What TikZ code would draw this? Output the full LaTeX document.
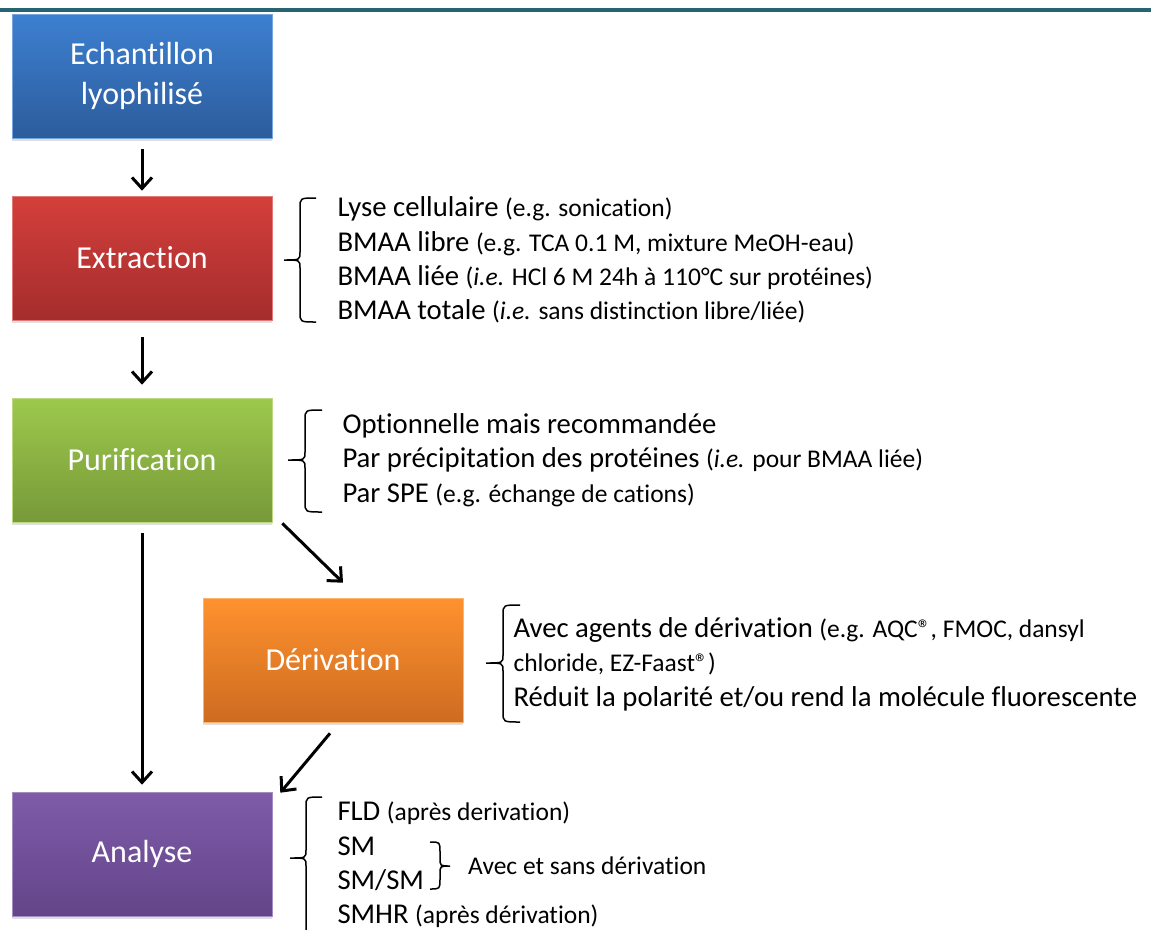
\documentclass[tikz,border=0pt]{standalone}
\usepackage{fontspec}
\setmainfont{Carlito}[Ligatures=CommonOff]
\usetikzlibrary{positioning,calc,shadows,arrows.meta}

\definecolor{rulecol}{HTML}{256470}
\definecolor{blueT}{HTML}{3D80D1}
\definecolor{blueB}{HTML}{2C5C9C}
\definecolor{redT}{HTML}{D43F3B}
\definecolor{redB}{HTML}{A42D2D}
\definecolor{greenT}{HTML}{9DC94C}
\definecolor{greenB}{HTML}{779939}
\definecolor{orangeT}{HTML}{FF922F}
\definecolor{orangeB}{HTML}{CD6B20}
\definecolor{purpleT}{HTML}{7F5BA9}
\definecolor{purpleB}{HTML}{634589}

\newcommand{\aside}[1]{{\fontsize{25.5}{34.4}\selectfont #1}}
% square-cornered curly bracket: end x, tip x, top y, tip y, bottom y
\newcommand{\curlybrack}[5]{%
  \draw[curly] (#1,#3) .. controls ($(#1,#3)!0.5!(#2,#3)$) .. ($(#1,#3)!0.5!(#2,#3)+(0,10)$)
    -- ($(#1,#4)!0.5!(#2,#4)+(0,-8)$) .. controls ($(#1,#4)!0.5!(#2,#4)$) .. (#2,#4)
    .. controls ($(#1,#4)!0.5!(#2,#4)$) .. ($(#1,#4)!0.5!(#2,#4)+(0,8)$)
    -- ($(#1,#5)!0.5!(#2,#5)+(0,-10)$) .. controls ($(#1,#5)!0.5!(#2,#5)$) .. (#1,#5);}

\begin{document}
\begin{tikzpicture}[x=1pt,y=-1pt,
    stepbox/.style 2 args={rectangle,minimum width=260pt,minimum height=124pt,
      top color=#1,bottom color=#2,draw=#1!70!white,line width=0.6pt,
      text=white,align=center,font=\fontsize{32}{40}\selectfont,
      drop shadow={shadow xshift=0pt,shadow yshift=-3pt,opacity=0.25}},
    items/.style={align=left,inner sep=0pt,font=\fontsize{28.7}{34.4}\selectfont},
    flow/.style={line width=3pt,-{Straight Barb[length=11pt,width=20pt]}},
    curly/.style={line width=1.5pt}]
  \useasboundingbox (0,0) rectangle (1151,929);
  \clip (0,0) rectangle (1151,929);

  % rule along the top
  \draw[rulecol,line width=4pt] (0,10) -- (1151,10);

  % steps
  \node[stepbox={blueT}{blueB}] (ech) at (142,76) {Echantillon\\lyophilisé};
  \node[stepbox={redT}{redB}] (ext) at (142,258) {Extraction};
  \node[stepbox={greenT}{greenB}] (pur) at (142,460) {Purification};
  \node[stepbox={orangeT}{orangeB}] (der) at (333,660) {Dérivation};
  \node[stepbox={purpleT}{purpleB}] (ana) at (142,854) {Analyse};

  % details
  \node[items,right=65pt of ext,yshift=-2pt] (extlist) {%
    Lyse cellulaire \aside{(e.g. sonication)}\\
    BMAA libre \aside{(e.g. TCA 0.1 M, mixture MeOH-eau)}\\
    BMAA liée \aside{(\textit{i.e.} HCl 6 M 24h à 110°C sur protéines)}\\
    BMAA totale \aside{(\textit{i.e.} sans distinction libre/liée)}};
  \node[items,right=70pt of pur] (purlist) {%
    Optionnelle mais recommandée\\
    Par précipitation des protéines \aside{(\textit{i.e.} pour BMAA liée)}\\
    Par SPE \aside{(e.g. échange de cations)}};
  \node[items,right=50pt of der,yshift=-4pt] (derlist) {%
    Avec agents de dérivation \aside{(e.g. AQC®, FMOC, dansyl}\\
    \aside{chloride, EZ-Faast®)}\\
    Réduit la polarité et/ou rend la molécule fluorescente};
  \node[items,right=65pt of ana,yshift=-11pt] (analist) {%
    FLD \aside{(après derivation)}\\
    SM\\
    SM/SM\\
    SMHR \aside{(après dérivation)}};
  \node[items,anchor=west] (both) at (468,866) {\aside{Avec et sans dérivation}};

  % brackets
  \curlybrack{316}{284}{198}{260}{322}
  \curlybrack{322}{288}{410}{460}{512}
  \curlybrack{520}{486}{605}{663}{722}
  \curlybrack{322}{290}{797}{858}{945}
  \curlybrack{430}{450}{842}{866}{889}

  % flow
  \draw[flow,shorten <=11pt,shorten >=5pt] (ech) -- (ext);
  \draw[flow,shorten <=17pt,shorten >=13pt] (ext) -- (pur);
  \draw[flow,shorten <=11pt,shorten >=7pt] (pur) -- (ana);
  \draw[flow] ($(pur.south east)+(10,1)$) -- ($(der.north)+(10,-15)$);
  \draw[flow] ($(der.south)+(-3,11)$) -- ($(ana.north east)+(8,1)$);
\end{tikzpicture}
\end{document}
